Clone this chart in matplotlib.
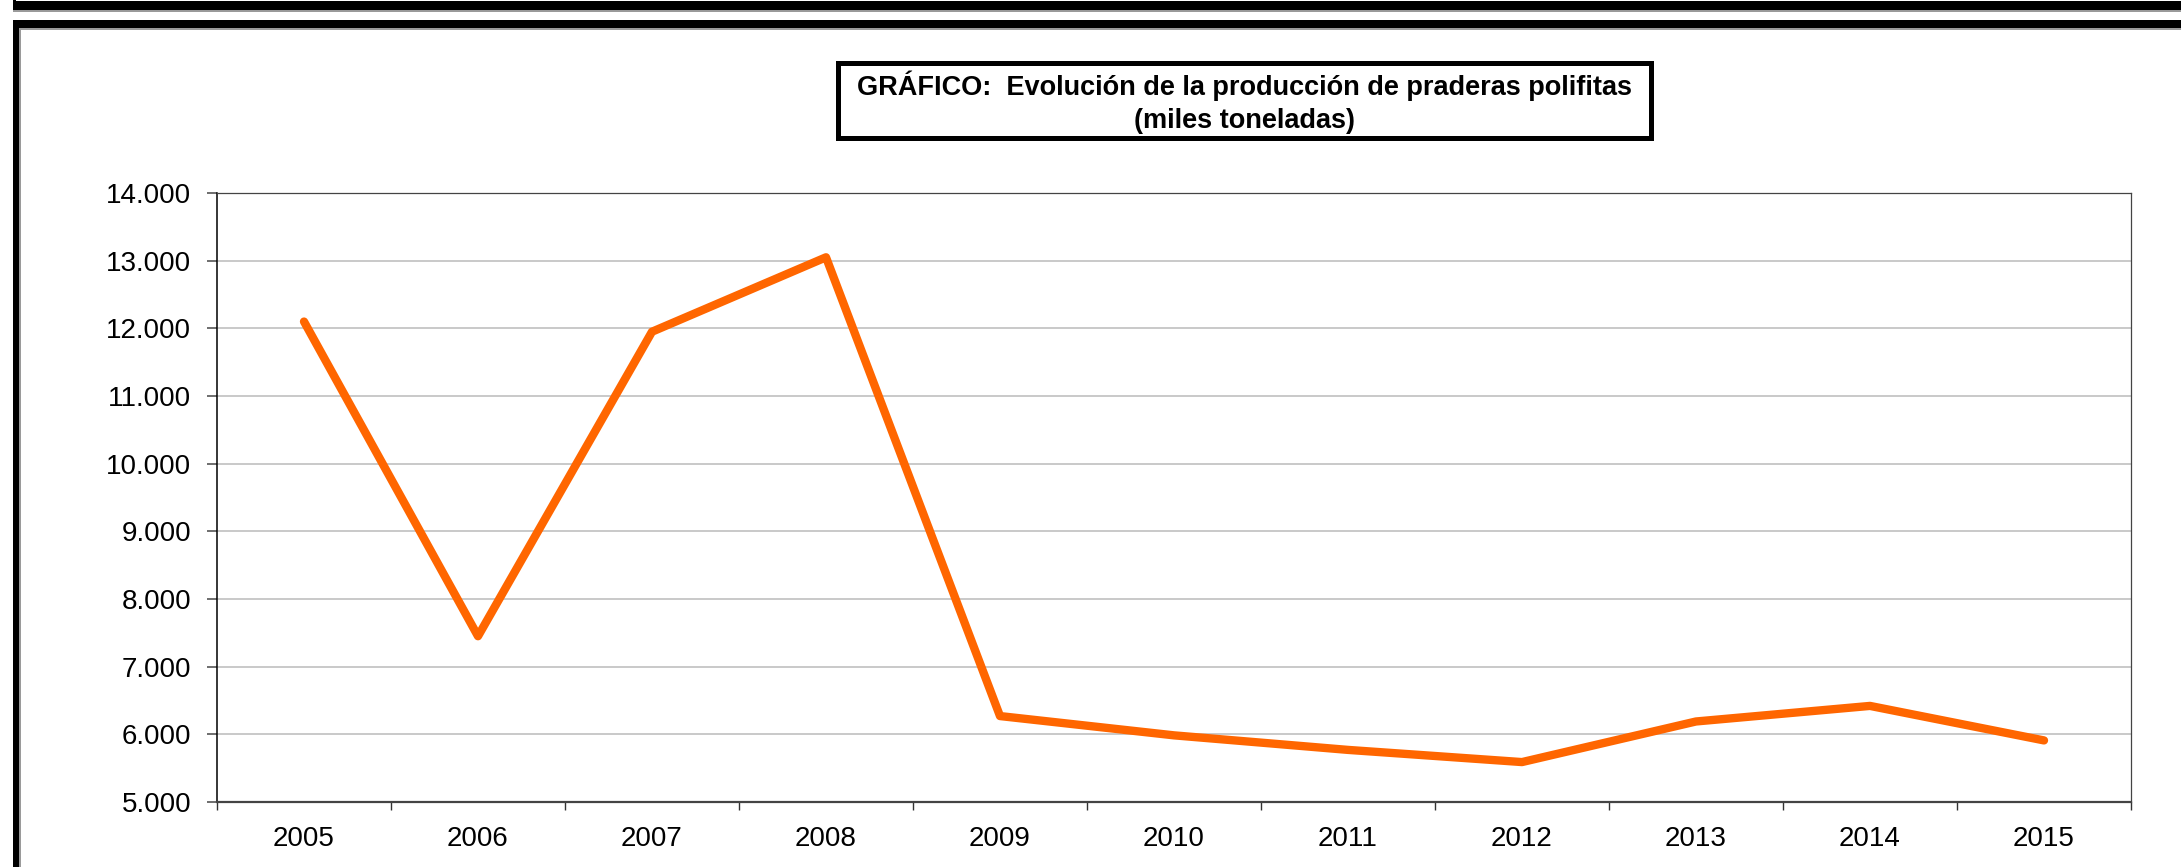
import numpy as np
import matplotlib.pyplot as plt
from matplotlib.patches import Rectangle
from matplotlib.ticker import FuncFormatter, FixedLocator

plt.rcParams['font.family'] = ['Liberation Sans', 'DejaVu Sans']

# production data (miles toneladas)
years = ['2005', '2006', '2007', '2008', '2009', '2010',
         '2011', '2012', '2013', '2014', '2015']
produccion = [12100, 7450, 11950, 13050, 6270, 5985, 5770, 5590, 6190, 6420, 5910]

W, H = 2181, 867
fig = plt.figure(figsize=(W / 100, H / 100), dpi=100)

# outer frame lines (pixel coords -> figure fraction)
def px_rect(x0, y0, x1, y1, color):
    fig.patches.append(Rectangle((x0 / W, 1 - y1 / H), (x1 - x0) / W, (y1 - y0) / H,
                                 transform=fig.transFigure, color=color, lw=0, zorder=0))

px_rect(13, 10, W, 12, '#9a9a9a')
px_rect(13, 1, W, 10, 'black')
px_rect(13, 0, 16, 4, 'black')
px_rect(18, 28, W, 30, '#9a9a9a')
px_rect(18, 28, 20.5, H, '#9a9a9a')
px_rect(13, 20, W, 28, 'black')
px_rect(13, 20, 18.5, H, 'black')

ax = fig.add_axes([217 / W, 65 / H, (2131 - 217) / W, (802 - 193) / H])
x = np.arange(len(years))
ax.plot(x, produccion, color='#FF6600', lw=6, solid_joinstyle='round',
        solid_capstyle='round', zorder=3)

ax.set_xlim(-0.5, len(years) - 0.5)
ax.set_ylim(5000, 14000)
ax.set_yticks(np.arange(5000, 14001, 1000))
ax.yaxis.set_major_formatter(FuncFormatter(lambda v, p: f'{int(v):,}'.replace(',', '.')))
ax.grid(axis='y', color='#c0c0c0', lw=1.2)
ax.set_axisbelow(True)

ax.set_xticks(x)
ax.set_xticklabels(years)
ax.xaxis.set_minor_locator(FixedLocator(np.arange(-0.5, len(years), 1)))
ax.tick_params(axis='x', which='major', length=0, pad=17, labelsize=20)
ax.tick_params(axis='x', which='minor', length=6, width=1, color='#333333', direction='out')
ax.tick_params(axis='y', length=7, width=1.2, color='#555555', pad=11.5, labelsize=20)

for s in ['top', 'right']:
    ax.spines[s].set_color('#444444')
    ax.spines[s].set_linewidth(0.9)
ax.spines['left'].set_color('black')
ax.spines['left'].set_linewidth(1.1)
ax.spines['bottom'].set_color('#444444')
ax.spines['bottom'].set_linewidth(1.6)

# title box
fig.patches.append(Rectangle((838 / W, 1 - 138 / H), (1651 - 838) / W, (138 - 63) / H,
                             transform=fig.transFigure, fill=False, ec='black', lw=3.6, zorder=1))
fig.text((838 + 1651) / 2 / W, 1 - 86 / H, 'GRÁFICO:  Evolución de la producción de praderas polifitas',
         ha='center', va='center', fontsize=19.5, fontweight='bold')
fig.text((838 + 1651) / 2 / W, 1 - 121 / H, '(miles toneladas)',
         ha='center', va='center', fontsize=19.5, fontweight='bold')

fig.savefig('out.png', dpi=100)
